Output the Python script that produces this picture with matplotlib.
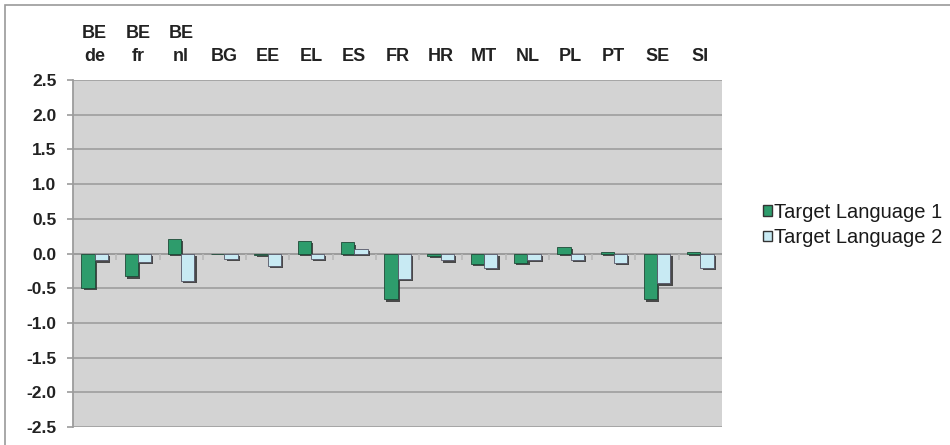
import matplotlib
matplotlib.use("Agg")
import matplotlib.pyplot as plt
import matplotlib.patheffects as pe
from matplotlib.patches import Patch, Rectangle
import numpy as np

categories = ["BE\nde", "BE\nfr", "BE\nnl", "BG", "EE", "EL", "ES", "FR", "HR", "MT", "NL", "PL", "PT", "SE", "SI"]
tl1 = [-0.50, -0.33, 0.21, -0.01, -0.02, 0.18, 0.16, -0.66, -0.04, -0.15, -0.13, 0.09, 0.02, -0.66, 0.02]
tl2 = [-0.10, -0.12, -0.39, -0.08, -0.18, -0.08, 0.07, -0.37, -0.10, -0.21, -0.09, -0.09, -0.13, -0.43, -0.21]
series_names = ["Target Language 1", "Target Language 2"]
yticks = [-2.5, -2.0, -1.5, -1.0, -0.5, 0.0, 0.5, 1.0, 1.5, 2.0, 2.5]

green = "#2e9c6c"
lblue = "#c8eaf3"
fam = ["Liberation Sans", "DejaVu Sans"]

fig = plt.figure(figsize=(9.5, 4.45), dpi=100)
fig.patches.append(Rectangle((5/950, -20/445), 960/950, 460/445, transform=fig.transFigure,
                             fill=False, edgecolor="#9a9a9a", linewidth=1.2))
ax = fig.add_axes([73/950, 18/445, 649/950, 347/445])
ax.set_facecolor("#d3d3d3")

x = np.arange(len(categories))
w = 0.307
shadow = [pe.SimplePatchShadow(offset=(1.6, -1.6), shadow_rgbFace="#3a3a3a", alpha=0.9), pe.Normal()]
b1 = ax.bar(x - w/2, tl1, width=w, color=green, edgecolor="#1e4a38", linewidth=0.6, zorder=3)
b2 = ax.bar(x + w/2, tl2, width=w, color=lblue, edgecolor="#556", linewidth=0.6, zorder=3)
for b in list(b1) + list(b2):
    b.set_path_effects(shadow)

ax.set_xlim(-0.5, len(categories) - 0.5)
ax.set_ylim(-2.5, 2.5)
ax.set_yticks(yticks)
ax.set_yticklabels([f"{v:.1f}" for v in yticks], fontfamily=fam, fontweight="bold", fontsize=12.5,
                   color="#222222")
ax.yaxis.grid(True, color="#a2a2a2", linewidth=1.3, zorder=0)
ax.set_axisbelow(True)
ax.tick_params(axis="y", length=4, width=1.3, color="#a2a2a2", pad=8)

ax.set_xticks(x)
ax.set_xticklabels(categories, fontfamily=fam, fontweight="bold", fontsize=13, linespacing=1.5,
                   color="#222222")
ax.xaxis.tick_top()
ax.tick_params(axis="x", length=0, pad=10.5)

# zero axis and category boundary ticks
ax.axhline(0, color="#9c9c9c", linewidth=1.3, zorder=2)
bounds = np.arange(len(categories) + 1) - 0.5
ax.vlines(bounds[1:-1], -0.09, 0, color="#b8b8b8", linewidth=1.2, zorder=2)

for s in ["top", "right", "bottom"]:
    ax.spines[s].set_visible(False)
ax.spines["left"].set_color("#9c9c9c")
ax.spines["left"].set_linewidth(1.3)

handles = [Patch(facecolor=green, edgecolor="#333"), Patch(facecolor=lblue, edgecolor="#333")]
leg = fig.legend(handles, series_names, loc="center left", bbox_to_anchor=(745/950, 1 - 225/445),
                 frameon=False, handlelength=0.42, handleheight=0.42, handletextpad=0.12,
                 labelspacing=0.32, prop={"family": fam, "size": 14.5})
for t in leg.get_texts():
    t.set_color("#1a1a1a")

fig.savefig("out.png", dpi=100)
